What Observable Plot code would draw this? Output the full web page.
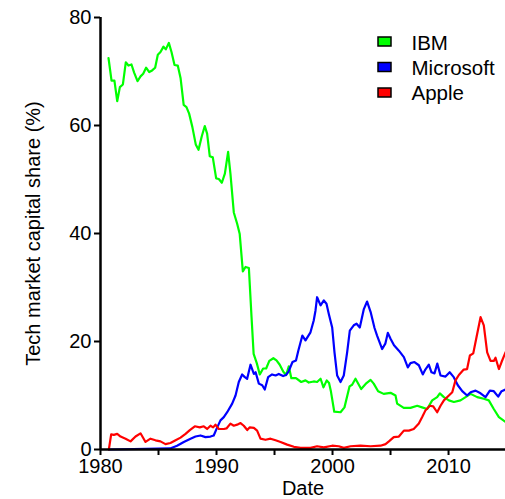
<!DOCTYPE html>
<html>
<head>
<meta charset="utf-8">
<script src="https://cdn.jsdelivr.net/npm/d3@7"></script>
<script src="https://cdn.jsdelivr.net/npm/@observablehq/plot@0.6"></script>
<style>
  html, body { margin: 0; padding: 0; background: #fff; }
</style>
</head>
<body>
<div id="chart"></div>
<script>
// ---- data ----
const ibmDate = [1980.69,1980.95,1981.2,1981.44,1981.67,1981.93,1982.18,1982.41,1982.67,1982.9,1983.19,1983.45,1983.68,1983.93,1984.2,1984.45,1984.71,1984.94,1985.17,1985.43,1985.63,1985.89,1986.12,1986.38,1986.66,1986.9,1987.17,1987.41,1987.64,1987.92,1988.21,1988.45,1988.73,1988.99,1989.19,1989.42,1989.68,1989.97,1990.2,1990.46,1990.72,1991.0,1991.2,1991.49,1991.78,1992.0,1992.27,1992.5,1992.79,1993.02,1993.2,1993.47,1993.73,1994.02,1994.28,1994.55,1994.9,1995.17,1995.45,1995.76,1996.0,1996.23,1996.45,1996.85,1997.3,1997.67,1997.95,1998.38,1998.67,1998.97,1999.22,1999.5,1999.7,1999.85,2000.15,2000.69,2001.03,2001.47,2001.69,2001.98,2002.47,2002.93,2003.28,2003.55,2003.93,2004.41,2005.0,2005.43,2005.57,2006.14,2006.72,2007.3,2007.72,2008.16,2008.59,2009.02,2009.25,2009.6,2010.03,2010.46,2011.03,2011.47,2011.9,2012.47,2013.04,2013.47,2013.9,2014.34,2014.91];
const ibmShare = [72.5,68.3,68.3,64.5,67.1,67.6,71.7,71.1,71.3,69.8,68.2,69.1,69.6,70.7,69.9,70.2,70.7,73.1,73.6,74.6,74.1,75.3,73.6,71.2,71.1,68.8,63.8,63.4,62.2,59.7,56.5,55.5,58.0,59.9,58.5,54.3,54.1,50.2,50.1,49.4,51.1,55.1,51.1,43.9,41.8,39.9,33.0,33.8,33.6,24.5,17.7,16.0,13.9,15.0,15.0,16.4,16.9,16.5,15.7,14.4,13.8,15.4,13.2,13.2,12.5,12.8,12.4,12.6,12.5,13.1,11.5,12.8,12.3,10.9,7.0,6.9,7.8,11.7,12.0,13.1,11.2,12.3,12.9,12.2,10.8,10.3,10.5,10.0,8.5,7.7,7.7,8.1,7.8,7.5,9.1,9.7,10.4,9.7,9.1,8.8,9.1,9.7,10.3,9.7,9.4,9.1,7.5,6.0,5.1];

const msftDate = [1980.72,1986.0,1986.6,1987.18,1987.76,1988.19,1988.62,1989.05,1989.48,1989.76,1990.06,1990.34,1990.63,1990.92,1991.35,1991.64,1991.92,1992.21,1992.44,1992.64,1992.93,1993.22,1993.37,1993.65,1993.94,1994.16,1994.45,1994.79,1995.09,1995.37,1995.74,1996.0,1996.2,1996.55,1996.85,1997.05,1997.4,1997.67,1998.1,1998.38,1998.53,1998.67,1998.97,1999.25,1999.48,1999.68,1999.97,2000.17,2000.4,2000.69,2000.97,2001.26,2001.49,2001.83,2002.07,2002.35,2002.7,2002.98,2003.28,2003.62,2003.84,2004.28,2004.55,2004.77,2005.0,2005.3,2005.72,2006.15,2006.49,2006.72,2007.06,2007.44,2007.78,2008.0,2008.3,2008.53,2008.79,2009.03,2009.31,2009.74,2010.1,2010.45,2010.8,2011.18,2011.6,2011.9,2012.33,2012.76,2013.19,2013.56,2013.9,2014.28,2014.57,2014.91];
const msftShare = [0,0.2,0.7,1.4,2.0,2.4,2.6,2.3,2.4,2.6,4.1,5.4,6.0,6.9,8.5,10.0,12.5,13.9,13.4,13.1,15.7,14.0,14.3,12.2,11.9,11.1,13.4,13.9,13.7,14.0,13.6,13.8,14.4,16.2,16.5,18.3,21.1,20.2,21.7,23.9,25.7,28.2,26.7,27.6,27.0,25.1,22.6,18.0,13.7,12.5,13.7,18.0,22.0,23.0,23.3,22.6,26.0,27.4,25.5,22.5,21.1,18.6,19.6,21.6,20.5,19.3,18.3,17.1,15.2,16.0,16.2,15.6,13.9,14.8,15.7,14.3,14.1,15.9,13.7,13.5,14.3,13.4,11.9,10.8,10.0,10.6,10.9,10.4,9.7,10.9,10.8,9.8,10.8,11.1];

const appleDate = [1980.72,1980.92,1981.15,1981.44,1981.73,1982.16,1982.59,1983.02,1983.45,1983.88,1984.31,1984.74,1985.17,1985.6,1986.03,1986.47,1986.9,1987.33,1987.7,1988.13,1988.56,1988.9,1989.19,1989.48,1989.71,1989.91,1990.2,1990.63,1990.86,1991.2,1991.49,1991.78,1992.07,1992.35,1992.65,1992.87,1993.22,1993.5,1993.79,1994.22,1994.66,1995.09,1995.52,1996.09,1996.67,1997.24,1998.1,1998.67,1999.25,1999.97,2000.54,2000.97,2001.55,2002.41,2003.28,2004.14,2004.57,2004.86,2005.28,2005.72,2006.15,2006.58,2007.0,2007.44,2007.73,2008.0,2008.39,2008.68,2009.02,2009.31,2009.6,2010.03,2010.32,2010.6,2010.89,2011.31,2011.6,2011.84,2012.13,2012.41,2012.76,2013.04,2013.33,2013.62,2013.9,2014.05,2014.34,2014.57,2014.91];
const appleShare = [0,2.8,2.7,2.9,2.4,2.0,1.5,2.4,3.0,1.4,2.0,1.7,1.5,1.0,1.2,1.7,2.2,2.9,3.6,4.3,4.1,4.3,3.8,4.4,4.1,4.6,3.8,3.8,3.9,4.8,4.4,4.6,4.9,4.4,3.6,4.1,4.0,3.5,2.0,1.8,2.0,1.7,1.4,0.9,0.5,0.3,0.3,0.6,0.4,0.7,0.6,0.3,0.6,0.7,0.6,0.7,1.0,1.5,2.3,2.4,3.5,3.5,3.8,4.8,6.0,7.2,8.1,8.0,6.9,8.1,9.1,10.0,10.6,12.8,13.8,14.8,14.9,17.4,17.8,20.8,24.5,23.0,18.0,16.4,16.4,17.0,14.9,16.2,18.0];

const seriesNames = ["IBM", "Microsoft", "Apple"];
const seriesColors = ["#00ff00", "#0000ff", "#ff0000"];
const xTicks = [1980, 1985, 1990, 1995, 2000, 2005, 2010];
const yTicks = [0, 20, 40, 60, 80];
const xLabel = "Date";
const yLabel = "Tech market capital share (%)";

// ---- build table ----
const rows = [];
[[ibmDate, ibmShare], [msftDate, msftShare], [appleDate, appleShare]].forEach(([dates, vals], i) => {
  dates.forEach((d, j) => rows.push({company: seriesNames[i], date: d, share: vals[j]}));
});

const rectSymbol = { draw(ctx) { ctx.rect(-6.5, -4.5, 13, 9); } };

const legendMarks = seriesNames.flatMap((name, i) => [
  Plot.dot([name], {frameAnchor: "top-right", dx: -121, dy: 24 + 25.5 * i, symbol: rectSymbol, fill: seriesColors[i], stroke: "black", strokeWidth: 1.5}),
  Plot.text([name], {frameAnchor: "top-right", dx: -94, dy: 25.5 + 25 * i, text: d => d, textAnchor: "start", lineAnchor: "middle", fontSize: 20.5, fill: "black"})
]);

const chart = Plot.plot({
  width: 505,
  height: 499,
  marginLeft: 100,
  marginRight: 0,
  marginTop: 17,
  marginBottom: 50,
  style: {fontFamily: "'Liberation Sans', Arial, sans-serif", fontSize: "20px", color: "black", background: "white"},
  x: {domain: [1980, 2014.91], label: null},
  y: {domain: [0, 80], label: null},
  color: {domain: seriesNames, range: seriesColors},
  marks: [
    Plot.axisY({ticks: yTicks, tickSize: 6, tickPadding: 3, strokeWidth: 2, tickFormat: d => String(d), label: null, fontSize: 20}),
    Plot.axisX({ticks: xTicks, tickSize: 6, tickPadding: 3, strokeWidth: 2, tickFormat: d => d % 10 === 0 ? String(d) : "", label: null, fontSize: 20}),
    Plot.line(rows, {x: "date", y: "share", z: "company", stroke: "company", strokeWidth: 2.2, curve: "linear"}),
    Plot.ruleX([1980], {stroke: "black", strokeWidth: 2.5}),
    Plot.ruleY([0], {stroke: "black", strokeWidth: 2.5}),
    Plot.text([xLabel], {frameAnchor: "bottom", dy: 39, text: d => d, textAnchor: "middle", lineAnchor: "middle", fontSize: 20, fill: "black"}),
    Plot.text([yLabel], {frameAnchor: "left", dx: -67, rotate: -90, text: d => d, textAnchor: "middle", lineAnchor: "middle", fontSize: 20, fill: "black"}),
    ...legendMarks
  ]
});
document.getElementById("chart").appendChild(chart);
</script>
</body>
</html>
